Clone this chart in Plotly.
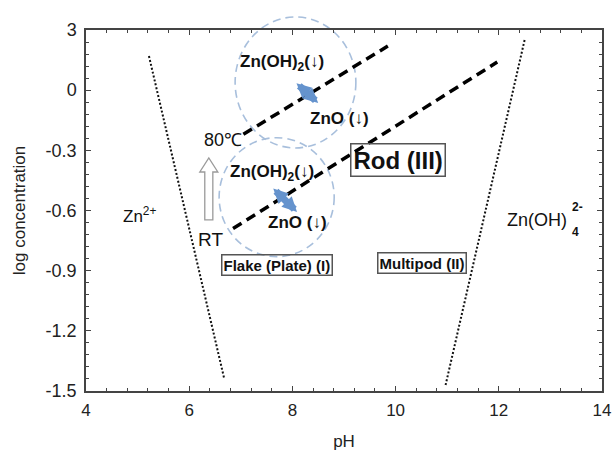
import plotly.graph_objects as go

# ---------------- data ----------------
x_tickvals = [4, 6, 8, 10, 12, 14]
y_tickvals = [-1.5, -1.2, -0.9, -0.6, -0.3, 0.0, 0.3]
y_ticktext = ["-1.5", "-1.2", "-0.9", "-0.6", "-0.3", "0", "3"]
x_range = [4, 14]
y_range = [-1.5, 0.3]

# dotted solubility boundaries
zn2_bound_ph = [5.22, 6.68]
zn2_bound_logc = [0.17, -1.44]
znoh4_bound_ph = [12.50, 10.96]
znoh4_bound_logc = [0.25, -1.48]

# dashed Zn(OH)2 / ZnO equilibrium lines
eq80_ph = [7.05, 9.85]
eq80_logc = [-0.22, 0.22]
eqRT_ph = [6.85, 11.97]
eqRT_logc = [-0.69, 0.14]

# ellipses (x0, x1, y0, y1)
ellipse_80 = (6.89, 9.23, -0.288, 0.365)
ellipse_RT = (6.58, 8.81, -0.830, -0.237)

# blue double arrows (start -> end)
arrow80 = ((8.05, 0.041), (8.50, -0.064))
arrowRT = ((7.60, -0.483), (8.09, -0.607))

# RT -> 80C arrow: x centre, bottom, head base, tip
temp_arrow = (6.38, -0.647, -0.408, -0.338)

FONT = "Arial, Liberation Sans, Helvetica, sans-serif"
AX = "#444444"

fig = go.Figure()

for xs, ys in [(zn2_bound_ph, zn2_bound_logc), (znoh4_bound_ph, znoh4_bound_logc)]:
    fig.add_trace(go.Scatter(x=xs, y=ys, mode="lines",
                             line=dict(color="#111111", width=2, dash="2px,2px"),
                             showlegend=False, hoverinfo="skip"))
for xs, ys in [(eq80_ph, eq80_logc), (eqRT_ph, eqRT_logc)]:
    fig.add_trace(go.Scatter(x=xs, y=ys, mode="lines",
                             line=dict(color="#000000", width=3.5, dash="10px,6px"),
                             showlegend=False, hoverinfo="skip"))


def px(x):
    return (x - x_range[0]) / (x_range[1] - x_range[0])


def py(y):
    return (y - y_range[0]) / (y_range[1] - y_range[0])


shapes = []
for (x0, x1, y0, y1) in [ellipse_80, ellipse_RT]:
    shapes.append(dict(type="circle", xref="paper", yref="paper",
                       x0=px(x0), x1=px(x1), y0=py(y0), y1=py(y1),
                       line=dict(color="#a8bfdc", width=1.6, dash="8px,5px"),
                       layer="below"))

xc, yb, yh, yt = temp_arrow
hs, hh = 0.078, 0.175
pts = [(xc - hs, yb), (xc + hs, yb), (xc + hs, yh), (xc + hh, yh), (xc, yt),
       (xc - hh, yh), (xc - hs, yh)]
path = "M " + " L ".join(f"{a},{b}" for a, b in pts) + " Z"
shapes.append(dict(type="path", xref="x", yref="y", path=path,
                   line=dict(color="#9a9a9a", width=1.3), fillcolor="white"))

ann = []
for (s, e) in [arrow80, arrowRT]:
    ann.append(dict(x=e[0], y=e[1], ax=s[0], ay=s[1], xref="x", yref="y",
                    axref="x", ayref="y", text="", showarrow=True,
                    arrowhead=2, startarrowhead=2, arrowside="end+start",
                    arrowwidth=7, arrowsize=0.42, startarrowsize=0.42,
                    arrowcolor="#6593cd"))


def label(x, y, text, size, bold=False, **kw):
    t = f"<b>{text}</b>" if bold else text
    d = dict(x=x, y=y, xref="x", yref="y", text=t, showarrow=False,
             font=dict(family=FONT, size=size, color="#111111"))
    d.update(kw)
    ann.append(d)


label(7.80, 0.136, "Zn(OH)<sub>2</sub>(↓)", 17, bold=True)
label(8.92, -0.139, "ZnO (↓)", 17, bold=True)
label(7.60, -0.413, "Zn(OH)<sub>2</sub>(↓)", 17, bold=True)
label(8.09, -0.662, "ZnO (↓)", 17, bold=True)
label(6.66, -0.248, "80℃", 18)
label(6.42, -0.747, "RT", 19)
label(5.03, -0.622, "Zn<sup>2+</sup>", 17)
label(13.36, -0.647, "Zn(OH)", 18, xanchor="right")
label(13.38, -0.585, "2-", 12, bold=True, xanchor="left")
label(13.38, -0.705, "4", 12, bold=True, xanchor="left")
label(10.05, -0.348, "Rod (III)", 24, bold=True,
      bordercolor="#555555", borderwidth=1.5, borderpad=2)
label(7.71, -0.871, "Flake (Plate) (I)", 15, bold=True,
      bordercolor="#555555", borderwidth=1.5, borderpad=1)
label(10.51, -0.862, "Multipod (II)", 15, bold=True,
      bordercolor="#555555", borderwidth=1.5, borderpad=1)

fig.update_layout(
    width=614, height=451,
    margin=dict(l=86, r=12, t=30, b=60),
    paper_bgcolor="white", plot_bgcolor="white",
    shapes=shapes, annotations=ann, showlegend=False,
    font=dict(family=FONT, color="#222222"),
    xaxis=dict(range=x_range, tickvals=x_tickvals, showgrid=False, zeroline=False,
               showline=True, linecolor=AX, linewidth=1.5, mirror="ticks",
               ticks="inside", ticklen=5, tickcolor=AX, tickwidth=1.2,
               ticklabelstandoff=3,
               tickfont=dict(size=17, color="#222222"),
               minor=dict(dtick=0.4, tick0=4, ticks="inside", ticklen=3,
                          tickcolor=AX, tickwidth=1, showgrid=False),
               title=dict(text="pH", font=dict(size=17, color="#222222"), standoff=16),
               automargin=False, fixedrange=True),
    yaxis=dict(range=y_range, tickvals=y_tickvals, ticktext=y_ticktext,
               showgrid=False, zeroline=False,
               showline=True, linecolor=AX, linewidth=1.5, mirror="ticks",
               ticks="inside", ticklen=5, tickcolor=AX, tickwidth=1.2,
               ticklabelstandoff=4,
               tickfont=dict(size=18, color="#222222"),
               minor=dict(dtick=0.06, tick0=-1.5, ticks="inside", ticklen=3,
                          tickcolor=AX, tickwidth=1, showgrid=False),
               title=dict(text="log concentration", font=dict(size=17, color="#222222"),
                          standoff=16),
               automargin=False, fixedrange=True),
)

# remove the default 8px page margin so the 614x451 figure fills the window exactly
fig.write_html("out.html",
               config={"displayModeBar": False},
               post_script="document.body.style.margin='0';"
                           "document.body.style.overflow='hidden';")
